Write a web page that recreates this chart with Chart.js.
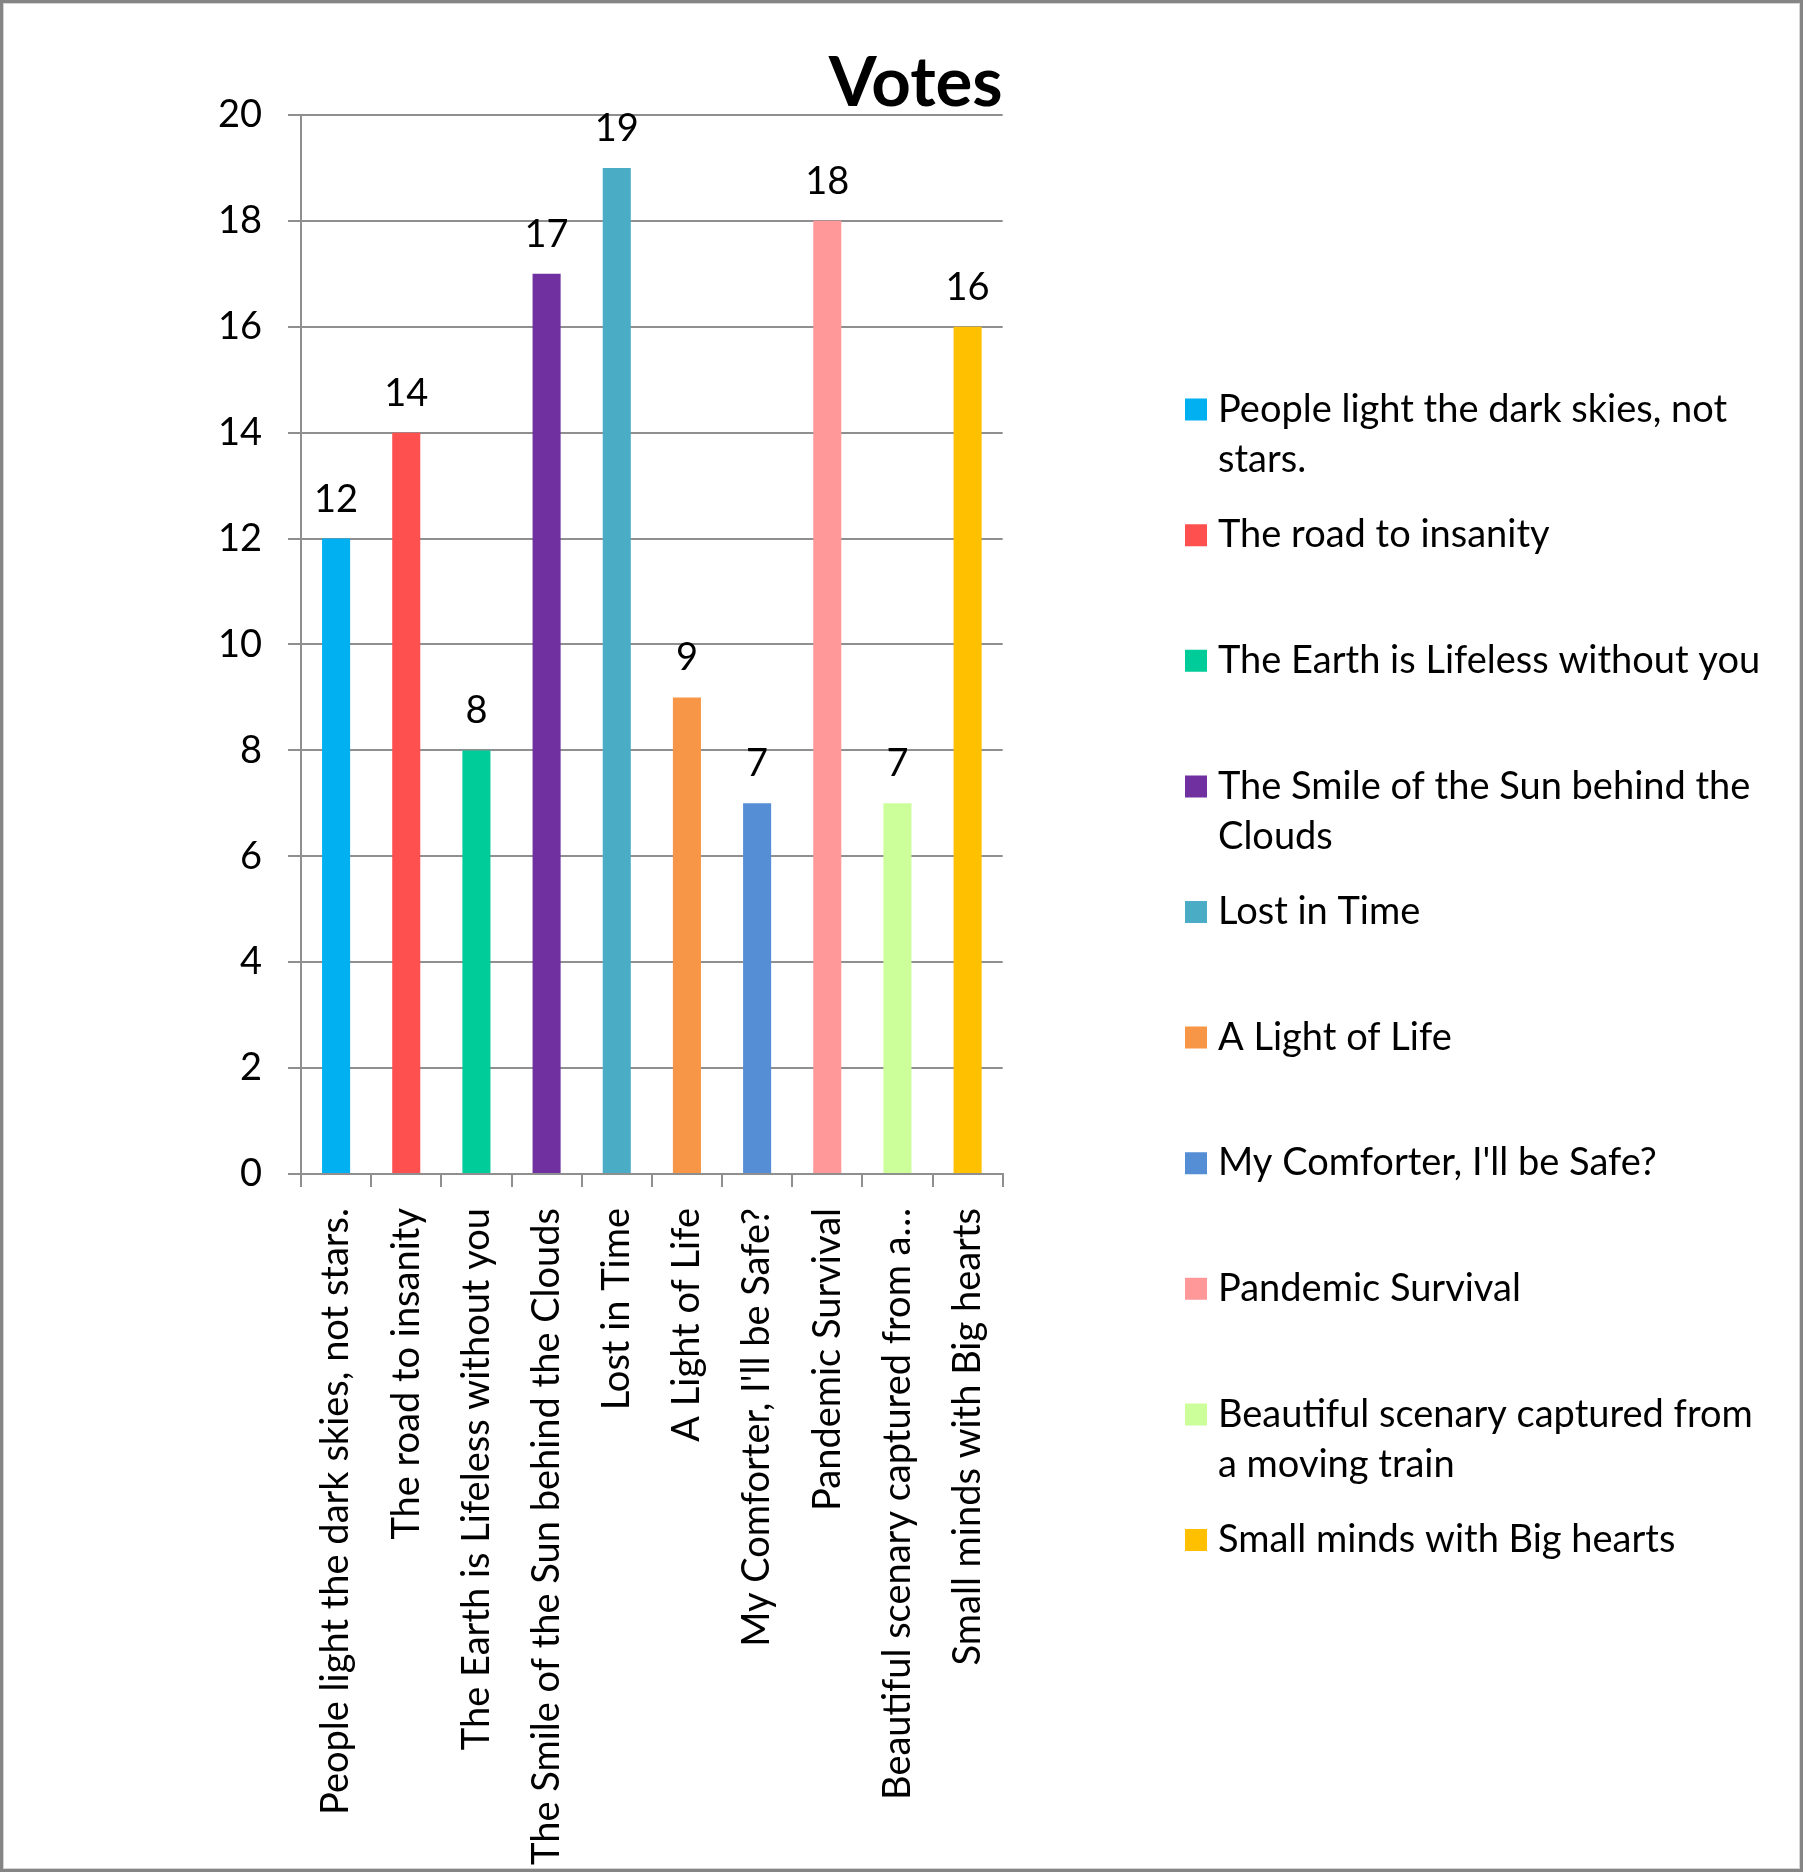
<!DOCTYPE html>
<html>
<head>
<meta charset="utf-8">
<title>Votes</title>
<script src="https://cdn.jsdelivr.net/npm/chart.js@4.4.1/dist/chart.umd.min.js"></script>
<style>
  html, body { margin: 0; padding: 0; background: #fff; overflow: hidden; }
  #wrap { position: relative; width: 1803px; height: 1872px; }
  #votes { position: absolute; left: 0; top: 0; }
  #frame {
    position: absolute; left: 0; top: 0; width: 1803px; height: 1872px;
    box-sizing: border-box; border: 3px solid #858585;
    box-shadow: inset 0 0 0 1px #d4d4d4; pointer-events: none;
  }
</style>
</head>
<body>
<div id="wrap">
  <canvas id="votes" width="1803" height="1872"></canvas>
  <div id="frame"></div>
</div>
<script>
// axis labels (Excel cut the 9th one short)
const categories = [
  "People light the dark skies, not stars.",
  "The road to insanity",
  "The Earth is Lifeless without you",
  "The Smile of the Sun behind the Clouds",
  "Lost in Time",
  "A Light of Life",
  "My Comforter, I'll be Safe?",
  "Pandemic Survival",
  "Beautiful scenary captured from a…",
  "Small minds with Big hearts",
];

// legend entries, already wrapped the way the picture wraps them
const legendText = [
  ["People light the dark skies, not", "stars."],
  ["The road to insanity"],
  ["The Earth is Lifeless without you"],
  ["The Smile of the Sun behind the", "Clouds"],
  ["Lost in Time"],
  ["A Light of Life"],
  ["My Comforter, I'll be Safe?"],
  ["Pandemic Survival"],
  ["Beautiful scenary captured from", "a moving train"],
  ["Small minds with Big hearts"],
];

const votes = [12, 14, 8, 17, 19, 9, 7, 18, 7, 16];

const barColors = [
  "#00b0f0", "#ff5050", "#00cc99", "#7030a0", "#4bacc6",
  "#f79646", "#558ed5", "#ff9999", "#ccff99", "#ffc000",
];

const yMin = 0;
const yMax = 20;
const yStep = 2;

const grey = "#8f8f8f";
const fontFamily = "Lato, 'Open Sans', sans-serif";
const legendFont = 38;
const legendPad = 25.6;
const legendBox = 6;

// numbers above the bars
const valueLabels = {
  id: "valueLabels",
  afterDatasetsDraw(chart) {
    const ctx = chart.ctx;
    const meta = chart.getDatasetMeta(0);
    ctx.save();
    ctx.font = "38px " + fontFamily;
    ctx.fillStyle = "#000";
    ctx.textAlign = "center";
    ctx.textBaseline = "alphabetic";
    meta.data.forEach((bar, i) => {
      ctx.fillText(String(votes[i]), bar.x, bar.y - 27);
    });
    ctx.restore();
  },
};

function drawChart() {
  Chart.defaults.font.family = fontFamily;
  Chart.defaults.color = "#000";

  // two lines each so every entry takes the same room
  const legendItems = legendText.map((lines) => (lines.length > 1 ? lines : [lines[0], ""]));

  // same width sum the legend does itself (longest line by length per entry),
  // so the legend box can be pinned to start at x = 1167
  const probe = document.createElement("canvas").getContext("2d");
  probe.font = "normal " + legendFont + "px " + fontFamily;
  const widest = Math.max(
    ...legendItems.map((lines) =>
      probe.measureText(lines.reduce((a, b) => (a.length > b.length ? a : b))).width
    )
  );
  const legendWidth = legendPad + legendBox + legendFont / 2 + widest + 10;
  const rightPad = 1803 - 1167.4 - legendWidth;

  new Chart(document.getElementById("votes"), {
    type: "bar",
    data: {
      labels: categories,
      datasets: [
        {
          label: "Votes",
          data: votes,
          backgroundColor: barColors,
          barPercentage: 0.4,
          categoryPercentage: 1,
        },
      ],
    },
    options: {
      responsive: false,
      animation: false,
      layout: { padding: { top: 0, left: 0, bottom: 0, right: rightPad } },
      plugins: {
        title: {
          display: true,
          text: "Votes",
          align: "end",
          fullSize: false,
          color: "#000",
          font: { size: 69, weight: "bold", lineHeight: 0.85 },
          padding: { top: 54, bottom: 2.3 },
        },
        legend: {
          position: "right",
          align: "start",
          maxWidth: legendWidth,
          // empty title only pushes the entries down
          title: {
            display: true,
            text: "",
            font: { size: 1, lineHeight: 1 },
            padding: { top: 364, bottom: 0 },
          },
          labels: {
            color: "#000",
            font: { size: legendFont, lineHeight: "50px" },
            usePointStyle: true,
            boxWidth: legendBox,
            boxHeight: 22,
            padding: legendPad,
            generateLabels: () =>
              legendItems.map((lines, i) => ({
                text: lines,
                fillStyle: barColors[i],
                strokeStyle: barColors[i],
                lineWidth: 0,
                pointStyle: "rect",
                rotation: 0,
                hidden: false,
                index: i,
              })),
          },
        },
        tooltip: { enabled: false },
      },
      scales: {
        x: {
          grid: {
            drawOnChartArea: false,
            drawTicks: true,
            tickLength: 13,
            color: grey,
            lineWidth: 2,
          },
          border: { color: grey, width: 2 },
          ticks: {
            autoSkip: false,
            minRotation: 90,
            maxRotation: 90,
            padding: 21,
            color: "#000",
            font: { size: 38 },
          },
          afterFit: (s) => {
            s.height = 698;
          },
        },
        y: {
          min: yMin,
          max: yMax,
          grid: { color: grey, lineWidth: 2, tickLength: 13 },
          border: { color: grey, width: 2 },
          ticks: {
            stepSize: yStep,
            padding: 26,
            color: "#000",
            font: { size: 38 },
          },
          afterFit: (s) => {
            s.width = 301;
          },
        },
        // blank axis, only keeps the gap between plot and legend
        gap: {
          type: "linear",
          position: "right",
          grid: { display: false },
          border: { display: false },
          ticks: { display: false },
          afterFit: (s) => {
            s.width = 164.7;
          },
        },
      },
    },
    plugins: [valueLabels],
  });
}

Promise.all([
  document.fonts.load("38px Lato"),
  document.fonts.load("bold 69px Lato"),
])
  .catch(() => {})
  .then(drawChart);
</script>
</body>
</html>
